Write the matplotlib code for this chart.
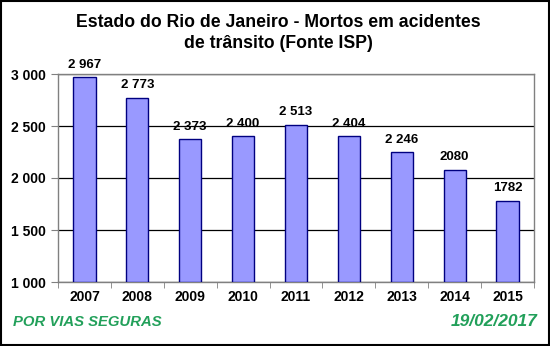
import numpy as np
import matplotlib.pyplot as plt
from matplotlib.patches import Rectangle

years = ['2007', '2008', '2009', '2010', '2011', '2012', '2013', '2014', '2015']
deaths = [2967, 2773, 2373, 2400, 2513, 2404, 2246, 2080, 1782]
value_labels = ['2 967', '2 773', '2 373', '2 400', '2 513', '2 404', '2 246', '2080', '1782']
y_ticks = [1000, 1500, 2000, 2500, 3000]
y_tick_labels = ['1 000', '1 500', '2 000', '2 500', '3 000']

plt.rcParams['font.family'] = ['Liberation Sans', 'DejaVu Sans']

fig = plt.figure(figsize=(5.5, 3.46), dpi=100)
W, H = 550, 346
ax = fig.add_axes([58 / W, 1 - 282 / H, (534 - 58) / W, (282 - 74) / H])

x = np.arange(len(years))
ax.bar(x, [d - 1000 for d in deaths], bottom=1000, width=0.42,
       color='#9999FF', edgecolor='#000080', linewidth=1, zorder=3)

# value labels above each bar
for xi, d, lab in zip(x, deaths, value_labels):
    ax.text(xi, d + 60, lab, ha='center', va='bottom', fontsize=9.5,
            fontweight='bold', zorder=4)

ax.set_xlim(-0.5, len(years) - 0.5)
ax.set_ylim(1000, 3000)
ax.set_yticks(y_ticks)
ax.set_yticklabels(y_tick_labels, fontsize=10, fontweight='bold')
ax.set_xticks(x)
ax.set_xticklabels(years, fontsize=10, fontweight='bold')
ax.tick_params(axis='x', length=0, pad=6)
ax.set_xticks(np.arange(-0.5, len(years)), minor=True)
ax.tick_params(axis='x', which='minor', length=4, direction='out', color='#808080')
ax.tick_params(axis='y', length=5, direction='out', color='#808080', pad=4)

ax.yaxis.grid(True, color='black', linewidth=0.9, zorder=0)
for s in ax.spines.values():
    s.set_color('#808080')
    s.set_linewidth(1)

fig.text(278 / W, 1 - 33 / H, 'Estado do Rio de Janeiro - Mortos em acidentes\nde trânsito (Fonte ISP)',
         ha='center', va='center', fontsize=12.7, fontweight='bold', linespacing=1.25)

fig.text(13 / W, 1 - 322 / H, 'POR VIAS SEGURAS', ha='left', va='center',
         fontsize=10.7, fontweight='bold', style='italic', color='#22A05A')
fig.text(537 / W, 1 - 322 / H, '19/02/2017', ha='right', va='center',
         fontsize=12.5, fontweight='bold', style='italic', color='#22A05A')

# outer frame round the whole picture
fig.add_artist(Rectangle((0.002, 0.003), 0.996, 0.994, transform=fig.transFigure,
                         fill=False, edgecolor='black', linewidth=1.5))

fig.savefig('out.png', dpi=100)
